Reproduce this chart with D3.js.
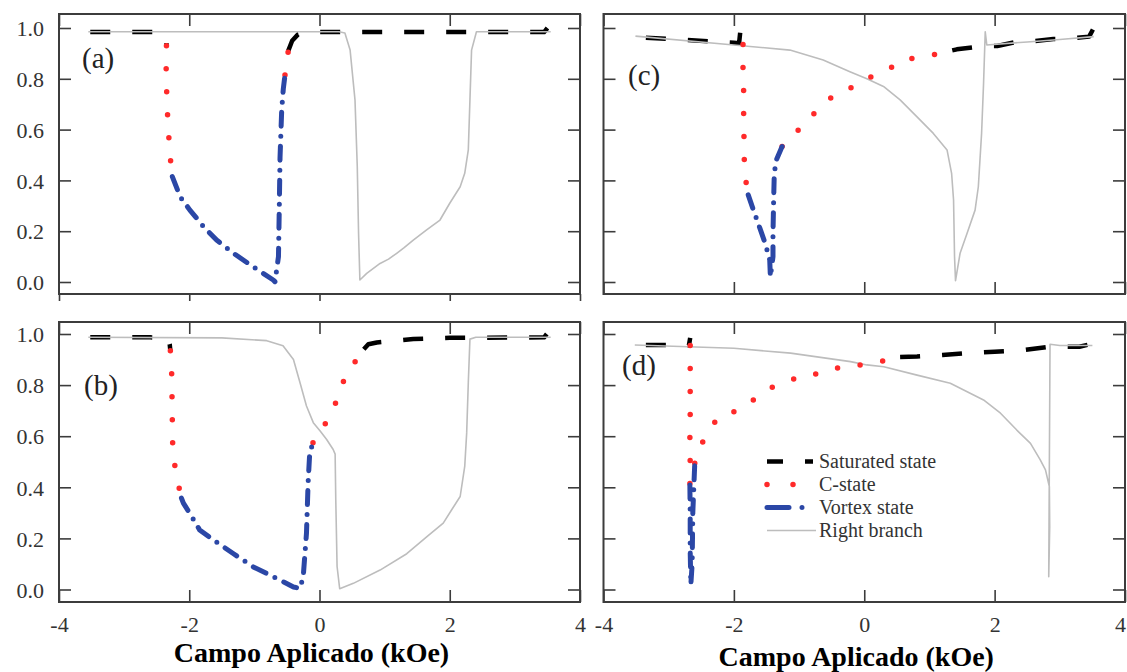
<!DOCTYPE html>
<html><head><meta charset="utf-8">
<script src="https://cdn.jsdelivr.net/npm/d3@7"></script>
<style>
body{margin:0;background:#fff;}
svg{display:block;}
text{font-family:"Liberation Serif","Times New Roman",serif;}
</style></head>
<body>
<svg id="chart" width="1127" height="672"></svg>
<script>
// ---------- data (field in kOe, normalized magnetization) ----------
const xTicks = [-4, -2, 0, 2, 4];
const yTicks = [0, 0.2, 0.4, 0.6, 0.8, 1.0];
const panelLabels = ["(a)", "(b)", "(c)", "(d)"];
const legendLabels = ["Saturated state", "C-state", "Vortex state", "Right branch"];
const axisTitle = "Campo Aplicado (kOe)";

// panel (a)
const aSatL = [[-3.52,0.984],[-2.9,0.984],[-2.45,0.984],[-2.38,0.975],[-2.345,0.955],[-2.35,0.93]];
const aCL = [[-2.35,0.93],[-2.357,0.874],[-2.35,0.78],[-2.34,0.69],[-2.32,0.6],[-2.30,0.51],[-2.26,0.415]];
const aVortex = [[-2.26,0.415],[-2.14,0.336],[-1.99,0.283],[-1.78,0.218],[-1.58,0.165],[-1.32,0.113],[-1.02,0.06],[-0.71,0.008],[-0.683,0.001],[-0.63,0.10],[-0.617,0.30],[-0.606,0.49],[-0.58,0.68],[-0.556,0.76],[-0.53,0.815]];
const aCR = [[-0.53,0.815],[-0.50,0.87],[-0.48,0.91]];
const aSatR = [[-0.48,0.91],[-0.42,0.95],[-0.33,0.975],[-0.2,0.984],[1.0,0.984],[2.5,0.984],[3.45,0.984],[3.5,1.0]];
const aRight = [[-3.55,0.985],[0.30,0.985],[0.39,0.98],[0.47,0.913],[0.545,0.717],[0.58,0.454],[0.60,0.19],[0.62,0.008],[0.725,0.034],[0.93,0.073],[1.06,0.09],[1.185,0.113],[1.3,0.135],[1.44,0.165],[1.645,0.205],[1.85,0.244],[2.0,0.31],[2.16,0.375],[2.23,0.428],[2.285,0.52],[2.31,0.717],[2.335,0.913],[2.41,0.985],[3.55,0.985]];

// panel (b)
const bSatL = [[-3.52,0.987],[-2.6,0.987],[-2.33,0.985],[-2.30,0.96],[-2.29,0.934]];
const bCL = [[-2.29,0.934],[-2.27,0.889],[-2.27,0.804],[-2.26,0.713],[-2.26,0.62],[-2.25,0.53],[-2.19,0.436],[-2.12,0.358]];
const bVortex = [[-2.12,0.358],[-2.09,0.338],[-1.96,0.285],[-1.84,0.233],[-1.63,0.194],[-1.32,0.14],[-1.02,0.089],[-0.71,0.05],[-0.40,0.01],[-0.30,0.004],[-0.25,0.05],[-0.20,0.22],[-0.175,0.417],[-0.15,0.535],[-0.10,0.574]];
const bCR = [[-0.10,0.574],[-0.07,0.58],[0.01,0.62],[0.15,0.672],[0.27,0.744],[0.39,0.83],[0.57,0.9],[0.68,0.94]];
const bSatR = [[0.68,0.94],[0.75,0.96],[0.88,0.967],[1.44,0.98],[2.0,0.985],[3.45,0.987],[3.49,1.0]];
const bRight = [[-3.55,0.987],[-1.5,0.985],[-0.81,0.974],[-0.56,0.954],[-0.40,0.9],[-0.30,0.81],[-0.20,0.718],[-0.095,0.653],[0.01,0.62],[0.11,0.587],[0.21,0.548],[0.24,0.53],[0.25,0.35],[0.27,0.09],[0.31,0.003],[0.52,0.024],[0.93,0.076],[1.34,0.14],[1.65,0.207],[1.90,0.26],[2.03,0.312],[2.16,0.364],[2.23,0.482],[2.26,0.613],[2.285,0.81],[2.31,0.98],[2.4,0.987],[3.55,0.987]];

// panel (c)
const cSatL = [[-3.35,0.962],[-2.9,0.955],[-2.4,0.948],[-2.0,0.942],[-1.92,0.94],[-1.9,0.99]];
const cCL = [[-1.86,0.935],[-1.86,0.842],[-1.85,0.75],[-1.85,0.66],[-1.845,0.573],[-1.84,0.477],[-1.81,0.386],[-1.78,0.343]];
const cVortex = [[-1.78,0.343],[-1.70,0.283],[-1.60,0.211],[-1.52,0.152],[-1.45,0.087],[-1.44,0.02],[-1.40,0.10],[-1.40,0.19],[-1.39,0.323],[-1.38,0.428],[-1.35,0.48],[-1.26,0.533]];
const cCR = [[-1.26,0.533],[-1.21,0.553],[-1.09,0.579],[-0.96,0.61],[-0.83,0.65],[-0.68,0.683],[-0.55,0.717],[-0.42,0.743],[-0.29,0.759],[-0.11,0.77],[0.04,0.80],[0.22,0.82],[0.42,0.846],[0.58,0.85],[0.73,0.88],[0.94,0.887],[1.19,0.903],[1.35,0.912]];
const cSatR = [[1.35,0.912],[1.42,0.916],[1.83,0.929],[2.04,0.929],[2.37,0.947],[2.57,0.947],[2.9,0.957],[3.1,0.957],[3.45,0.966],[3.52,1.0]];
const cRight = [[-3.51,0.968],[-2.0,0.933],[-1.14,0.913],[-0.63,0.874],[-0.22,0.828],[0.04,0.80],[0.295,0.77],[0.55,0.717],[0.81,0.65],[1.06,0.585],[1.27,0.52],[1.34,0.428],[1.37,0.323],[1.385,0.1],[1.40,0.005],[1.47,0.113],[1.575,0.19],[1.70,0.283],[1.75,0.375],[1.80,0.585],[1.83,0.78],[1.856,0.985],[1.88,0.933],[2.5,0.945],[3.0,0.955],[3.52,0.966]];

// panel (d)
const dSatL = [[-3.35,0.957],[-2.72,0.957],[-2.69,0.955],[-2.67,0.985]];
const dCL = [[-2.67,0.955],[-2.67,0.859],[-2.67,0.768],[-2.67,0.676],[-2.675,0.592],[-2.67,0.494],[-2.675,0.409]];
const dVortex = [[-2.675,0.409],[-2.67,0.3],[-2.67,0.15],[-2.66,0.02],[-2.64,0.1],[-2.63,0.3],[-2.6,0.494]];
const dCR = [[-2.6,0.494],[-2.55,0.545],[-2.49,0.572],[-2.36,0.631],[-2.23,0.676],[-2.08,0.683],[-1.95,0.703],[-1.83,0.729],[-1.70,0.742],[-1.57,0.77],[-1.42,0.791],[-1.29,0.804],[-1.14,0.817],[-0.96,0.84],[-0.67,0.844],[-0.52,0.852],[-0.37,0.872],[-0.21,0.879],[0.02,0.879],[0.25,0.892],[0.43,0.905],[0.55,0.91]];
const dSatR = [[0.55,0.91],[0.81,0.912],[1.2,0.918],[1.5,0.924],[2.0,0.931],[2.45,0.937],[2.85,0.95],[3.3,0.95],[3.47,0.96],[3.52,1.0]];
const dRight = [[-3.52,0.957],[-2.0,0.944],[-1.13,0.925],[-0.21,0.892],[0.04,0.879],[0.30,0.872],[0.81,0.839],[1.32,0.807],[1.83,0.742],[2.09,0.69],[2.34,0.624],[2.55,0.572],[2.70,0.507],[2.78,0.468],[2.84,0.402],[2.845,0.246],[2.83,0.05],[2.85,0.96],[3.0,0.955],[3.5,0.955]];

// ---------- styles ----------
const styles = {
  sat:    {stroke:"#000000", width:4.5, dash:"20,22", cap:"butt"},
  cstate: {stroke:"#ff2a2a", width:5.5, dash:"0,23", cap:"round"},
  vortex: {stroke:"#2b47a6", width:5, dash:"14,10,0,10", cap:"round"},
  right:  {stroke:"#bdbdbd", width:1.6, dash:null, cap:"butt"}
};

const panels = [
  {x0:59,  x1:580,  top:14,  bottom:294, y0:282,   y1:28,  label:panelLabels[0], lx:82,  ly:68,  yLabels:true,  xLabels:false, outBottom:true,
   series:[["sat",aSatL],["sat",aSatR],["right",aRight],["cstate",aCL],["cstate",aCR],["vortex",aVortex]]},
  {x0:59,  x1:580,  top:322, bottom:602, y0:589.5, y1:334, label:panelLabels[1], lx:84,  ly:395, yLabels:true,  xLabels:true, outBottom:false,
   series:[["sat",bSatL],["sat",bSatR],["right",bRight],["cstate",bCL],["cstate",bCR],["vortex",bVortex]]},
  {x0:603.5,x1:1125,top:14,  bottom:294, y0:282,   y1:28,  label:panelLabels[2], lx:628, ly:85,  yLabels:false, xLabels:false, outBottom:false,
   series:[["sat",cSatL],["sat",cSatR],["right",cRight],["cstate",cCL],["cstate",cCR],["vortex",cVortex]]},
  {x0:603.5,x1:1125,top:322, bottom:602, y0:589.5, y1:334, label:panelLabels[3], lx:622, ly:375, yLabels:false, xLabels:true, outBottom:false,
   series:[["sat",dSatL],["sat",dSatR],["right",dRight],["cstate",dCL],["cstate",dCR],["vortex",dVortex]]}
];

const svg = d3.select("#chart");
const frameColor = "#3c3c3c";
const labelColor = "#333";
const serif = '"Liberation Serif","Times New Roman",serif';

panels.forEach((p, i) => {
  const x = d3.scaleLinear().domain([-4, 4]).range([p.x0, p.x1]);
  const y = d3.scaleLinear().domain([0, 1]).range([p.y0, p.y1]);
  const g = svg.append("g");

  const clipId = "clip" + i;
  svg.append("clipPath").attr("id", clipId).append("rect")
    .attr("x", p.x0).attr("y", p.top).attr("width", p.x1 - p.x0).attr("height", p.bottom - p.top);

  const line = d3.line().x(d => x(d[0])).y(d => y(d[1]));
  const plot = g.append("g").attr("clip-path", `url(#${clipId})`);
  p.series.forEach(([k, data]) => {
    const s = styles[k];
    plot.append("path").datum(data).attr("d", line)
      .attr("fill", "none").attr("stroke", s.stroke).attr("stroke-width", s.width)
      .attr("stroke-linecap", s.cap).attr("stroke-linejoin", "round")
      .attr("stroke-dasharray", s.dash);
  });

  // axes (ticks inward)
  const fmtY = d3.format(".1f");
  const yl = g.append("g").attr("transform", `translate(${p.x0},0)`)
    .call(d3.axisLeft(y).tickValues(yTicks).tickSize(-12).tickPadding(0)
      .tickFormat(p.yLabels ? fmtY : () => ""));
  const yr = g.append("g").attr("transform", `translate(${p.x1},0)`)
    .call(d3.axisRight(y).tickValues(yTicks).tickSize(-12).tickFormat(() => ""));
  const xt = g.append("g").attr("transform", `translate(0,${p.top})`)
    .call(d3.axisTop(x).tickValues(xTicks).tickSize(-12).tickFormat(() => ""));
  const xb = g.append("g").attr("transform", `translate(0,${p.bottom})`)
    .call(d3.axisBottom(x).tickValues(xTicks).tickSize(p.outBottom ? 7 : -12)
      .tickPadding(p.outBottom ? 3 : 14)
      .tickFormat(p.xLabels ? (d => String(d)) : () => ""));
  [yl, yr, xt, xb].forEach(a => {
    a.select(".domain").remove();
    a.attr("font-family", serif);
    a.selectAll(".tick line").attr("stroke", frameColor).attr("stroke-width", 1.6);
    a.selectAll(".tick text").attr("fill", labelColor).style("font-size", "22px")
      .style("font-family", serif);
  });
  yl.selectAll(".tick text").attr("x", -15).attr("dy", "0.35em");
  // keep the last x label of the right-hand panel inside the picture
  if (p.xLabels && i === 3) {
    xb.selectAll(".tick text").filter(d => d === 4).attr("x", -5);
  }

  // frame
  g.append("rect").attr("x", p.x0).attr("y", p.top)
    .attr("width", p.x1 - p.x0).attr("height", p.bottom - p.top)
    .attr("fill", "none").attr("stroke", frameColor).attr("stroke-width", 2);

  // panel label
  g.append("text").attr("x", p.lx).attr("y", p.ly).text(p.label)
    .attr("fill", "#222").style("font-size", "29px");

  if (p.xLabels) {
    g.append("text").attr("x", (p.x0 + p.x1) / 2 - 8).attr("y", i === 1 ? 662 : 666)
      .attr("text-anchor", "middle").attr("fill", "#000")
      .style("font-size", "28px").style("font-weight", "bold").text(axisTitle);
  }
});

// legend inside panel (d)
const legendKeys = ["sat", "cstate", "vortex", "right"];
const ly = d3.scaleBand().domain(legendKeys).range([450, 542]).paddingInner(0);
const lg = svg.append("g");
const legendDash = {sat:"16,22,8,40", cstate:"0,26", vortex:"22,13,0,40", right:null};
legendKeys.forEach((k, i) => {
  const s = styles[k];
  const yy = ly(k) + ly.bandwidth() / 2;
  lg.append("line").attr("x1", 767).attr("x2", 816).attr("y1", yy).attr("y2", yy)
    .attr("stroke", s.stroke).attr("stroke-width", k === "right" ? 1.4 : s.width)
    .attr("stroke-linecap", s.cap).attr("stroke-dasharray", legendDash[k]);
  lg.append("text").attr("x", 819).attr("y", yy + 6).text(legendLabels[i])
    .attr("fill", labelColor).style("font-size", "20px");
});
</script>
</body></html>
